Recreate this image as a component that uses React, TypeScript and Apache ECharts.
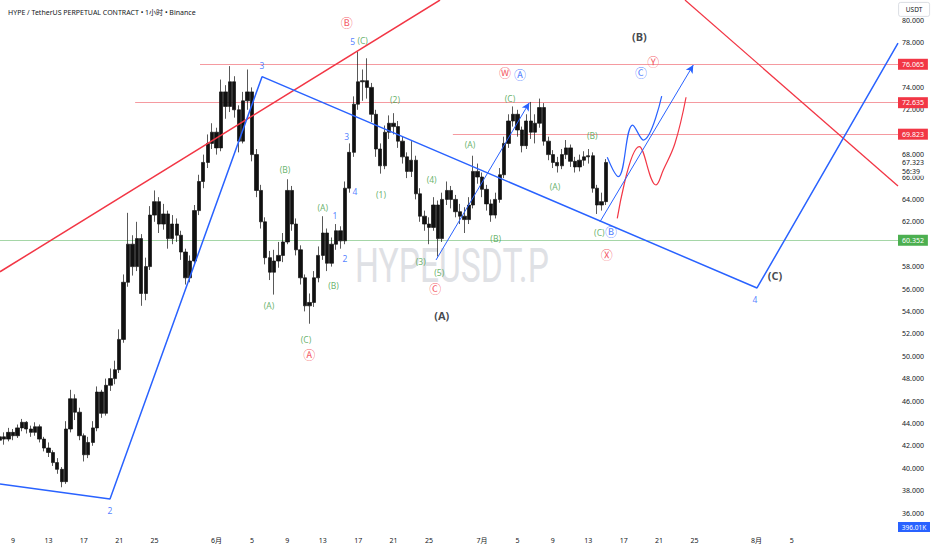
import React, { useEffect, useRef } from "react";
import * as echarts from "echarts";

const TITLE = "HYPE / TetherUS PERPETUAL CONTRACT • 1小时 • Binance";
const WATERMARK = "HYPEUSDT.P";
const CURRENCY = "USDT";
const VOLUME_LABEL = "396.01K";
const COUNTDOWN = "56:39";
const LAST_PRICE = 67.323;

// time axis: days since 1 May (9 May = 8, 1 Jun = 31, 1 Jul = 61, 1 Aug = 92)
const START_DAY = 6.5;
const STEP_DAYS = 0.5;
const FIRST_OPEN = 42.5;

const closes = [
  42.8, 42.6, 43.2, 42.9, 43.6, 44.1, 43.5, 43.2, 43.7, 42.6,
  41.8, 41.4, 40.5, 39.9, 38.8, 43.5, 46.2, 45.0, 42.9, 41.2,
  42.3, 43.6, 46.8, 44.9, 47.4, 48.0, 48.8, 51.5, 56.6, 60.0,
  58.0, 60.5, 55.6, 58.0, 62.6, 63.8, 61.8, 62.7, 60.5, 61.8,
  60.8, 59.3, 57.0, 58.5, 63.0, 65.6, 67.3, 69.0, 70.0, 68.6,
  73.6, 72.3, 74.5, 72.0, 69.2, 72.8, 73.6, 68.0, 64.8, 62.0,
  58.8, 57.5, 58.5, 59.0, 60.2, 64.8, 61.8, 59.5, 57.0, 54.5,
  54.8, 57.0, 59.0, 61.0, 58.3, 60.0, 61.2, 60.3, 65.0, 68.2,
  72.5, 74.5, 74.6, 74.0, 71.6, 68.5, 67.0, 70.0, 70.8, 70.5,
  69.2, 67.8, 66.5, 67.5, 64.5, 62.5, 61.8, 61.5, 63.5, 60.5,
  64.0, 64.8, 64.0, 62.9, 62.5, 62.2, 63.5, 66.5, 66.0, 64.9,
  63.6, 62.6, 64.0, 66.2, 69.0, 71.0, 71.6, 70.2, 68.8, 71.0,
  70.0, 70.8, 72.2, 69.2, 68.0, 67.3, 67.0, 68.0, 68.6, 67.4,
  66.9, 67.5, 67.8, 67.9, 65.0, 63.5, 63.8, 67.3,
];
const highs = [
  43.3, 43.2, 43.6, 43.5, 43.9, 44.4, 44.2, 43.8, 44.1, 43.9,
  42.8, 42.3, 41.6, 40.9, 40.1, 44.2, 47.0, 46.6, 45.4, 43.1,
  42.8, 44.2, 47.3, 47.0, 48.0, 48.9, 49.6, 52.4, 57.3, 62.8,
  60.8, 62.0, 60.9, 58.8, 63.4, 64.8, 64.2, 63.6, 63.0, 62.6,
  62.3, 61.2, 59.6, 59.0, 63.5, 66.2, 68.0, 69.8, 70.8, 70.4,
  74.7, 74.2, 75.9, 75.0, 72.4, 73.6, 75.6, 74.0, 68.5, 65.3,
  62.4, 59.4, 59.5, 60.2, 61.0, 65.8, 65.2, 62.3, 59.9, 57.3,
  55.6, 57.6, 59.8, 62.5, 61.4, 60.6, 61.8, 61.6, 65.6, 69.0,
  73.2, 77.2, 75.6, 76.6, 74.4, 72.0, 69.0, 70.6, 71.5, 71.7,
  71.0, 69.6, 68.2, 69.2, 67.9, 65.0, 63.0, 62.4, 64.2, 63.9,
  64.6, 65.6, 65.2, 64.4, 63.6, 63.3, 64.2, 67.9, 67.2, 66.4,
  65.3, 64.0, 64.6, 66.8, 69.6, 71.6, 72.3, 72.0, 70.5, 71.6,
  72.7, 71.6, 73.0, 72.6, 69.6, 68.4, 67.8, 68.5, 69.3, 68.9,
  67.8, 68.0, 68.3, 68.5, 68.2, 65.3, 64.6, 67.6,
];
const lows = [
  42.2, 42.1, 42.4, 42.5, 42.7, 43.3, 43.1, 42.8, 42.9, 42.3,
  41.5, 41.0, 40.2, 39.5, 38.3, 38.6, 43.2, 44.3, 42.5, 40.6,
  40.9, 42.0, 43.3, 44.5, 44.7, 46.9, 47.5, 48.5, 51.2, 56.2,
  57.2, 57.6, 54.5, 55.0, 57.7, 62.0, 61.0, 61.3, 59.6, 60.0,
  60.2, 58.6, 56.4, 56.6, 58.2, 62.6, 65.0, 66.8, 68.5, 68.0,
  68.3, 71.2, 71.8, 71.3, 68.2, 69.0, 72.0, 67.4, 64.2, 61.4,
  58.2, 56.8, 55.5, 57.9, 58.4, 60.0, 61.2, 59.0, 56.4, 54.0,
  52.9, 54.4, 56.6, 58.6, 57.6, 58.0, 59.5, 59.6, 60.0, 64.6,
  67.8, 72.0, 72.8, 73.0, 70.9, 67.8, 66.3, 66.7, 69.4, 69.8,
  68.6, 67.2, 65.9, 66.0, 64.0, 62.0, 61.2, 60.0, 61.2, 58.9,
  60.2, 63.5, 63.2, 62.4, 61.8, 61.0, 61.8, 63.2, 65.4, 64.2,
  63.0, 62.0, 62.3, 63.7, 65.9, 68.6, 70.5, 69.6, 68.2, 68.5,
  69.4, 69.0, 70.4, 68.8, 67.5, 66.8, 66.4, 66.7, 67.6, 66.9,
  66.4, 66.5, 67.0, 67.2, 64.6, 62.7, 63.0, 63.5,
];

const xTickDays = [8, 12, 16, 20, 24, 31, 35, 39, 43, 47, 51, 55, 61, 65, 69, 73, 77, 81, 85, 92, 96];
const xTickLabels = ["9", "13", "17", "21", "25", "6月", "5", "9", "13", "17", "21", "25", "7月", "5", "9", "13", "17", "21", "25", "8月", "5"];
// 60, 70 and 76 sit fully under the level tags in the reference
const yTicks = [36, 38, 40, 42, 44, 46, 48, 50, 52, 54, 56, 58, 62, 64, 66, 68, 72, 74, 78, 80];

const X_MIN = 6.531;
const X_MAX = 108.0;
const Y_MIN = 34.661;
const Y_MAX = 81.804;

// horizontal levels: [price, start day, colour key]
const levels: [number, number, string][] = [
  [76.065, 29.13, "red"],
  [72.635, 21.8, "red"],
  [69.823, 57.7, "red"],
  [60.352, 6.531, "green"],
];

// drawings: [day, price]
const redTrendUp = [[6.531, 57.54], [56.25, 81.8]];
const redTrendDown = [[83.93, 81.8], [108, 65.2]];
const blueWave = [[6.531, 38.59], [18.96, 37.25], [36.14, 74.96], [92.07, 56.09], [108, 77.96]];
const blueArrowA = [[55.8, 58.59], [66.34, 72.63]];
const blueArrowB = [[74.33, 62.01], [84.87, 76.0]];
const blueProjection = [[75.15, 67.76], [76.4, 66.03], [78.02, 70.64], [79.22, 69.3], [81.3, 73.23]];
const redProjection = [[76.28, 62.31], [78.77, 68.71], [80.66, 65.29], [81.48, 66.63], [82.8, 69.01], [84.05, 73.12]];

// annotations: [text, day, price]
const greenLabels: [string, number, number][] = [
  ["(A)", 36.93, 54.57], ["(B)", 38.73, 66.69], ["(C)", 41.11, 51.45],
  ["(A)", 43.0, 63.29], ["(B)", 44.21, 56.27], ["(C)", 47.51, 78.17],
  ["(2)", 51.16, 72.88], ["(1)", 49.58, 64.46], ["(4)", 55.31, 65.82],
  ["(3)", 54.07, 58.44], ["(5)", 56.17, 57.46], ["(A)", 59.64, 68.86],
  ["(B)", 62.54, 60.53], ["(C)", 64.16, 73.03], ["(A)", 69.24, 65.13],
  ["(B)", 73.46, 69.75], ["(C)", 74.25, 61.06],
];
const blueNumbers: [string, number, number][] = [
  ["3", 36.14, 76.0], ["2", 18.96, 36.18], ["4", 91.84, 55.02],
  ["5", 46.38, 78.08], ["3", 45.71, 69.6], ["4", 46.64, 64.75],
  ["1", 44.38, 62.52], ["2", 45.51, 58.68],
];
const redCircled: [string, number, number][] = [
  ["Ⓑ", 45.71, 79.62], ["Ⓐ", 41.48, 50.02], ["Ⓒ", 55.72, 55.91],
  ["Ⓦ", 63.59, 75.2], ["Ⓨ", 80.35, 76.21], ["Ⓧ", 75.08, 58.95],
];
const blueCircled: [string, number, number][] = [
  ["Ⓐ", 65.29, 75.04], ["Ⓒ", 78.96, 75.17], ["Ⓑ", 75.57, 61.03],
];
const blackLabels: [string, number, number][] = [
  ["(A)", 56.44, 53.59], ["(B)", 78.77, 78.53], ["(C)", 94.1, 57.25],
];

const RED = "#f23645";
const RED_LIGHT = "#f59aa0";
const BLUE = "#2962ff";
const GREEN = "#43a047";
const GREEN_LIGHT = "#a5d6a7";
const INK = "#131722";
const FONT = "'Noto Sans', 'Noto Sans CJK SC', sans-serif";
const CIRCLE_FONT = "'DejaVu Sans', 'Noto Sans CJK SC', sans-serif";

function labelSeries(items: [string, number, number][], color: string, size: number, bold = false, family = FONT) {
  return {
    type: "scatter",
    symbol: "circle",
    symbolSize: 1,
    color,
    itemStyle: { color: "rgba(0,0,0,0)" },
    z: 6,
    silent: true,
    data: items.map(([t, d, p]) => ({ value: [d, p], name: t })),
    label: {
      show: true,
      position: "inside",
      formatter: "{b}",
      color,
      textBorderWidth: 0,
      textBorderColor: "rgba(0,0,0,0)",
      fontSize: size,
      fontWeight: bold ? "bold" : "normal",
      fontFamily: family,
    },
    labelLayout: { hideOverlap: false },
  };
}

function lineSeries(data: number[][], color: string, width: number, smooth: number | boolean = false, extra: any = {}) {
  return {
    type: "line",
    data,
    showSymbol: false,
    symbol: "none",
    smooth,
    silent: true,
    z: 4,
    color,
    lineStyle: { color, width },
    ...extra,
  };
}

export default function App() {
  const ref = useRef<HTMLDivElement>(null);
  useEffect(() => {
    if (!ref.current) return;
    const chart = echarts.init(ref.current, undefined, { renderer: "svg" });

    const candles: number[][] = [];
    let open = FIRST_OPEN;
    for (let i = 0; i < closes.length; i++) {
      candles.push([START_DAY + i * STEP_DAYS, open, closes[i], lows[i], highs[i]]);
      open = closes[i];
    }

    const levelLines: any[] = levels.map(([price, from, kind]) => {
      const line = kind === "red" ? RED_LIGHT : GREEN_LIGHT;
      const box = kind === "red" ? RED : "#4caf50";
      return [
        {
          coord: [from, price],
          lineStyle: { color: line, width: 1, type: "solid" },
          label: {
            show: true,
            position: "end",
            distance: 0,
            formatter: price.toFixed(3),
            backgroundColor: box,
            color: "#fff",
            fontSize: 7,
            padding: [2, 4, 2, 4],
          },
        },
        { coord: [X_MAX, price] },
      ];
    });
    levelLines.push([
      {
        coord: [X_MAX - 0.01, LAST_PRICE],
        lineStyle: { color: "rgba(0,0,0,0)", width: 1 },
        label: {
          show: true,
          position: "end",
          distance: 0,
          formatter: LAST_PRICE.toFixed(3) + "\n" + COUNTDOWN,
          backgroundColor: "#fff",
          color: INK,
          fontSize: 7,
          lineHeight: 9,
          padding: [0, 8, 0, 4],
          offset: [0, 4.5],
        },
      },
      { coord: [X_MAX, LAST_PRICE] },
    ]);

    const option: any = {
      animation: false,
      backgroundColor: "#ffffff",
      textStyle: { fontFamily: FONT },
      title: {
        text: TITLE,
        left: 3,
        top: 4,
        textStyle: { fontSize: 7, fontWeight: "normal", color: INK, fontFamily: FONT },
      },
      grid: { left: 0, right: 34, top: 0, bottom: 22 },
      xAxis: {
        type: "value",
        min: X_MIN,
        max: X_MAX,
        axisLine: { show: false },
        axisTick: { show: false },
        splitLine: { show: false },
        axisLabel: {
          customValues: xTickDays,
          formatter: (v: number) => {
            const k = xTickDays.indexOf(Math.round(v));
            return k >= 0 ? xTickLabels[k] : "";
          },
          fontSize: 7,
          color: INK,
          margin: 9,
        },
      },
      yAxis: {
        type: "value",
        position: "right",
        min: Y_MIN,
        max: Y_MAX,
        scale: true,
        axisLine: { show: false },
        axisTick: { show: false },
        splitLine: { show: false },
        axisLabel: {
          customValues: yTicks,
          formatter: (v: number) => v.toFixed(3),
          fontSize: 7,
          color: INK,
          margin: 4,
        },
      },
      graphic: [
        {
          type: "text",
          x: 452,
          y: 266,
          scaleX: 0.7,
          z: 0,
          silent: true,
          style: {
            text: WATERMARK,
            x: 0,
            y: 0,
            align: "center",
            verticalAlign: "middle",
            fontSize: 48,
            fontFamily: "Roboto, 'Noto Sans', sans-serif",
            fill: "#dfe1e5",
          },
        },
        {
          type: "group",
          right: 2,
          top: 2,
          z: 100,
          children: [
            { type: "rect", shape: { x: 0, y: 0, width: 31, height: 14, r: 2 }, style: { fill: "#fff", stroke: "#d1d4dc", lineWidth: 0.8 } },
            { type: "text", style: { text: CURRENCY, x: 15.5, y: 7, align: "center", verticalAlign: "middle", fontSize: 6.5, fill: INK, fontFamily: FONT } },
          ],
        },
        {
          type: "group",
          right: 2,
          top: 522,
          z: 100,
          children: [
            { type: "rect", shape: { x: 0, y: 0, width: 32, height: 10 }, style: { fill: BLUE } },
            { type: "text", style: { text: VOLUME_LABEL, x: 16, y: 5, align: "center", verticalAlign: "middle", fontSize: 6.5, fill: "#fff", fontFamily: FONT } },
          ],
        },
      ],
      series: [
        {
          type: "candlestick",
          data: candles,
          encode: { x: 0, y: [1, 2, 3, 4] },
          barWidth: 3.8,
          z: 2,
          itemStyle: {
            color: "#111",
            color0: "#111",
            borderColor: "#111",
            borderColor0: "#111",
            borderWidth: 0.7,
          },
          markLine: {
            silent: true,
            symbol: "none",
            animation: false,
            z: 1,
            data: levelLines,
          },
        },
        lineSeries(redTrendUp, RED, 1.5),
        lineSeries(redTrendDown, RED, 1.3),
        lineSeries(blueWave, BLUE, 1.5, false, {
          markLine: {
            silent: true,
            symbol: ["none", "arrow"],
            symbolSize: [6, 8],
            animation: false,
            lineStyle: { color: BLUE, width: 1, type: "solid" },
            itemStyle: { color: BLUE },
            label: { show: false },
            data: [
              [{ coord: blueArrowA[0] }, { coord: blueArrowA[1] }],
              [{ coord: blueArrowB[0] }, { coord: blueArrowB[1] }],
            ],
          },
        }),
        lineSeries(blueProjection, BLUE, 1.2, 0.4),
        lineSeries(redProjection, RED, 1.2, 0.4),
        labelSeries(greenLabels, GREEN, 8.5),
        labelSeries(blueNumbers, BLUE, 8.5),
        labelSeries(redCircled, RED, 12, false, CIRCLE_FONT),
        labelSeries(blueCircled, BLUE, 12, false, CIRCLE_FONT),
        labelSeries(blackLabels, INK, 11, true),
      ],
    };
    chart.setOption(option);
    return () => chart.dispose();
  }, []);

  return (
    <div
      ref={ref}
      style={{ position: "absolute", left: 0, top: 0, width: 932, height: 550, background: "#fff" }}
    />
  );
}
